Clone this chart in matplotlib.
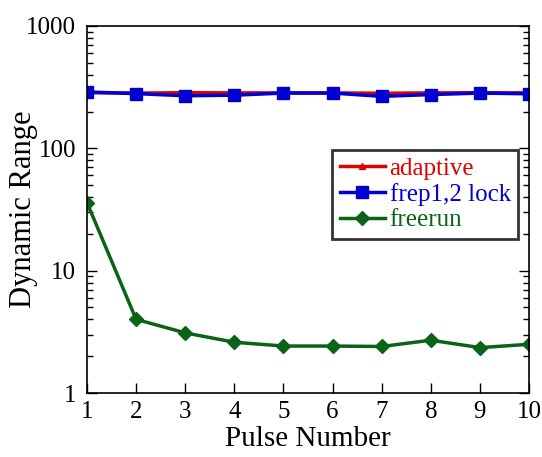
import matplotlib
matplotlib.use("Agg")
import matplotlib.pyplot as plt
from matplotlib.ticker import LogLocator, NullFormatter

pulse = [1, 2, 3, 4, 5, 6, 7, 8, 9, 10]
adaptive = [285, 283, 285, 284, 284, 284, 282, 284, 285, 284]
frep_lock = [289, 280, 269, 272, 283, 283, 266, 275, 283, 279]
freerun = [36, 4.0, 3.1, 2.6, 2.42, 2.42, 2.4, 2.7, 2.35, 2.5]
yticks = [1, 10, 100, 1000]
ytick_labels = ["1", "10", "100", "1000"]

plt.rcParams['font.family'] = ['Liberation Serif', 'DejaVu Serif']
fig = plt.figure(figsize=(5.42, 4.57), dpi=100)
ax = fig.add_axes([87/542, 1-393/457, (529-87)/542, (393-26)/457])

ax.plot(pulse, adaptive, color='#e00000', lw=2.5, marker='^', ms=5, label='adaptive')
ax.plot(pulse, frep_lock, color='#0000d0', lw=2.5, marker='s', ms=8, label='frep1,2 lock')
ax.plot(pulse, freerun, color='#0a6418', lw=2.5, marker='D', ms=7, label='freerun')

ax.set_yscale('log')
ax.set_ylim(1, 1000)
ax.set_xlim(1, 10)
ax.set_xticks(pulse)
ax.set_yticks(yticks)
ax.set_yticklabels(ytick_labels)
ax.yaxis.set_minor_locator(LogLocator(base=10, subs=range(2, 10)))
ax.yaxis.set_minor_formatter(NullFormatter())
ax.tick_params(which='both', direction='in', right=True, top=False, labelsize=18, colors='black')
ax.tick_params(which='major', length=7, width=1)
ax.tick_params(which='minor', length=4, width=1)
ax.tick_params(axis='x', pad=6)
ax.tick_params(axis='y', pad=8)
for s in ax.spines.values():
    s.set_linewidth(1.2)

ax.set_xlabel('Pulse Number', fontsize=21, labelpad=2)
ax.set_ylabel('Dynamic Range', fontsize=22)
ax.yaxis.set_label_coords(-0.11, 0.5)

leg = ax.legend(loc='upper left', bbox_to_anchor=((332-87)/442, 1-(150-26)/367),
                fontsize=18, frameon=True, fancybox=False, handlelength=1.8,
                borderpad=0.3, labelspacing=0.12, handletextpad=0.2, borderaxespad=0)
leg.get_frame().set_edgecolor('black')
leg.get_frame().set_linewidth(2)
for t, c in zip(leg.get_texts(), ['#e00000', '#0000d0', '#0a6418']):
    t.set_color(c)

fig.savefig('out.png', dpi=100)
